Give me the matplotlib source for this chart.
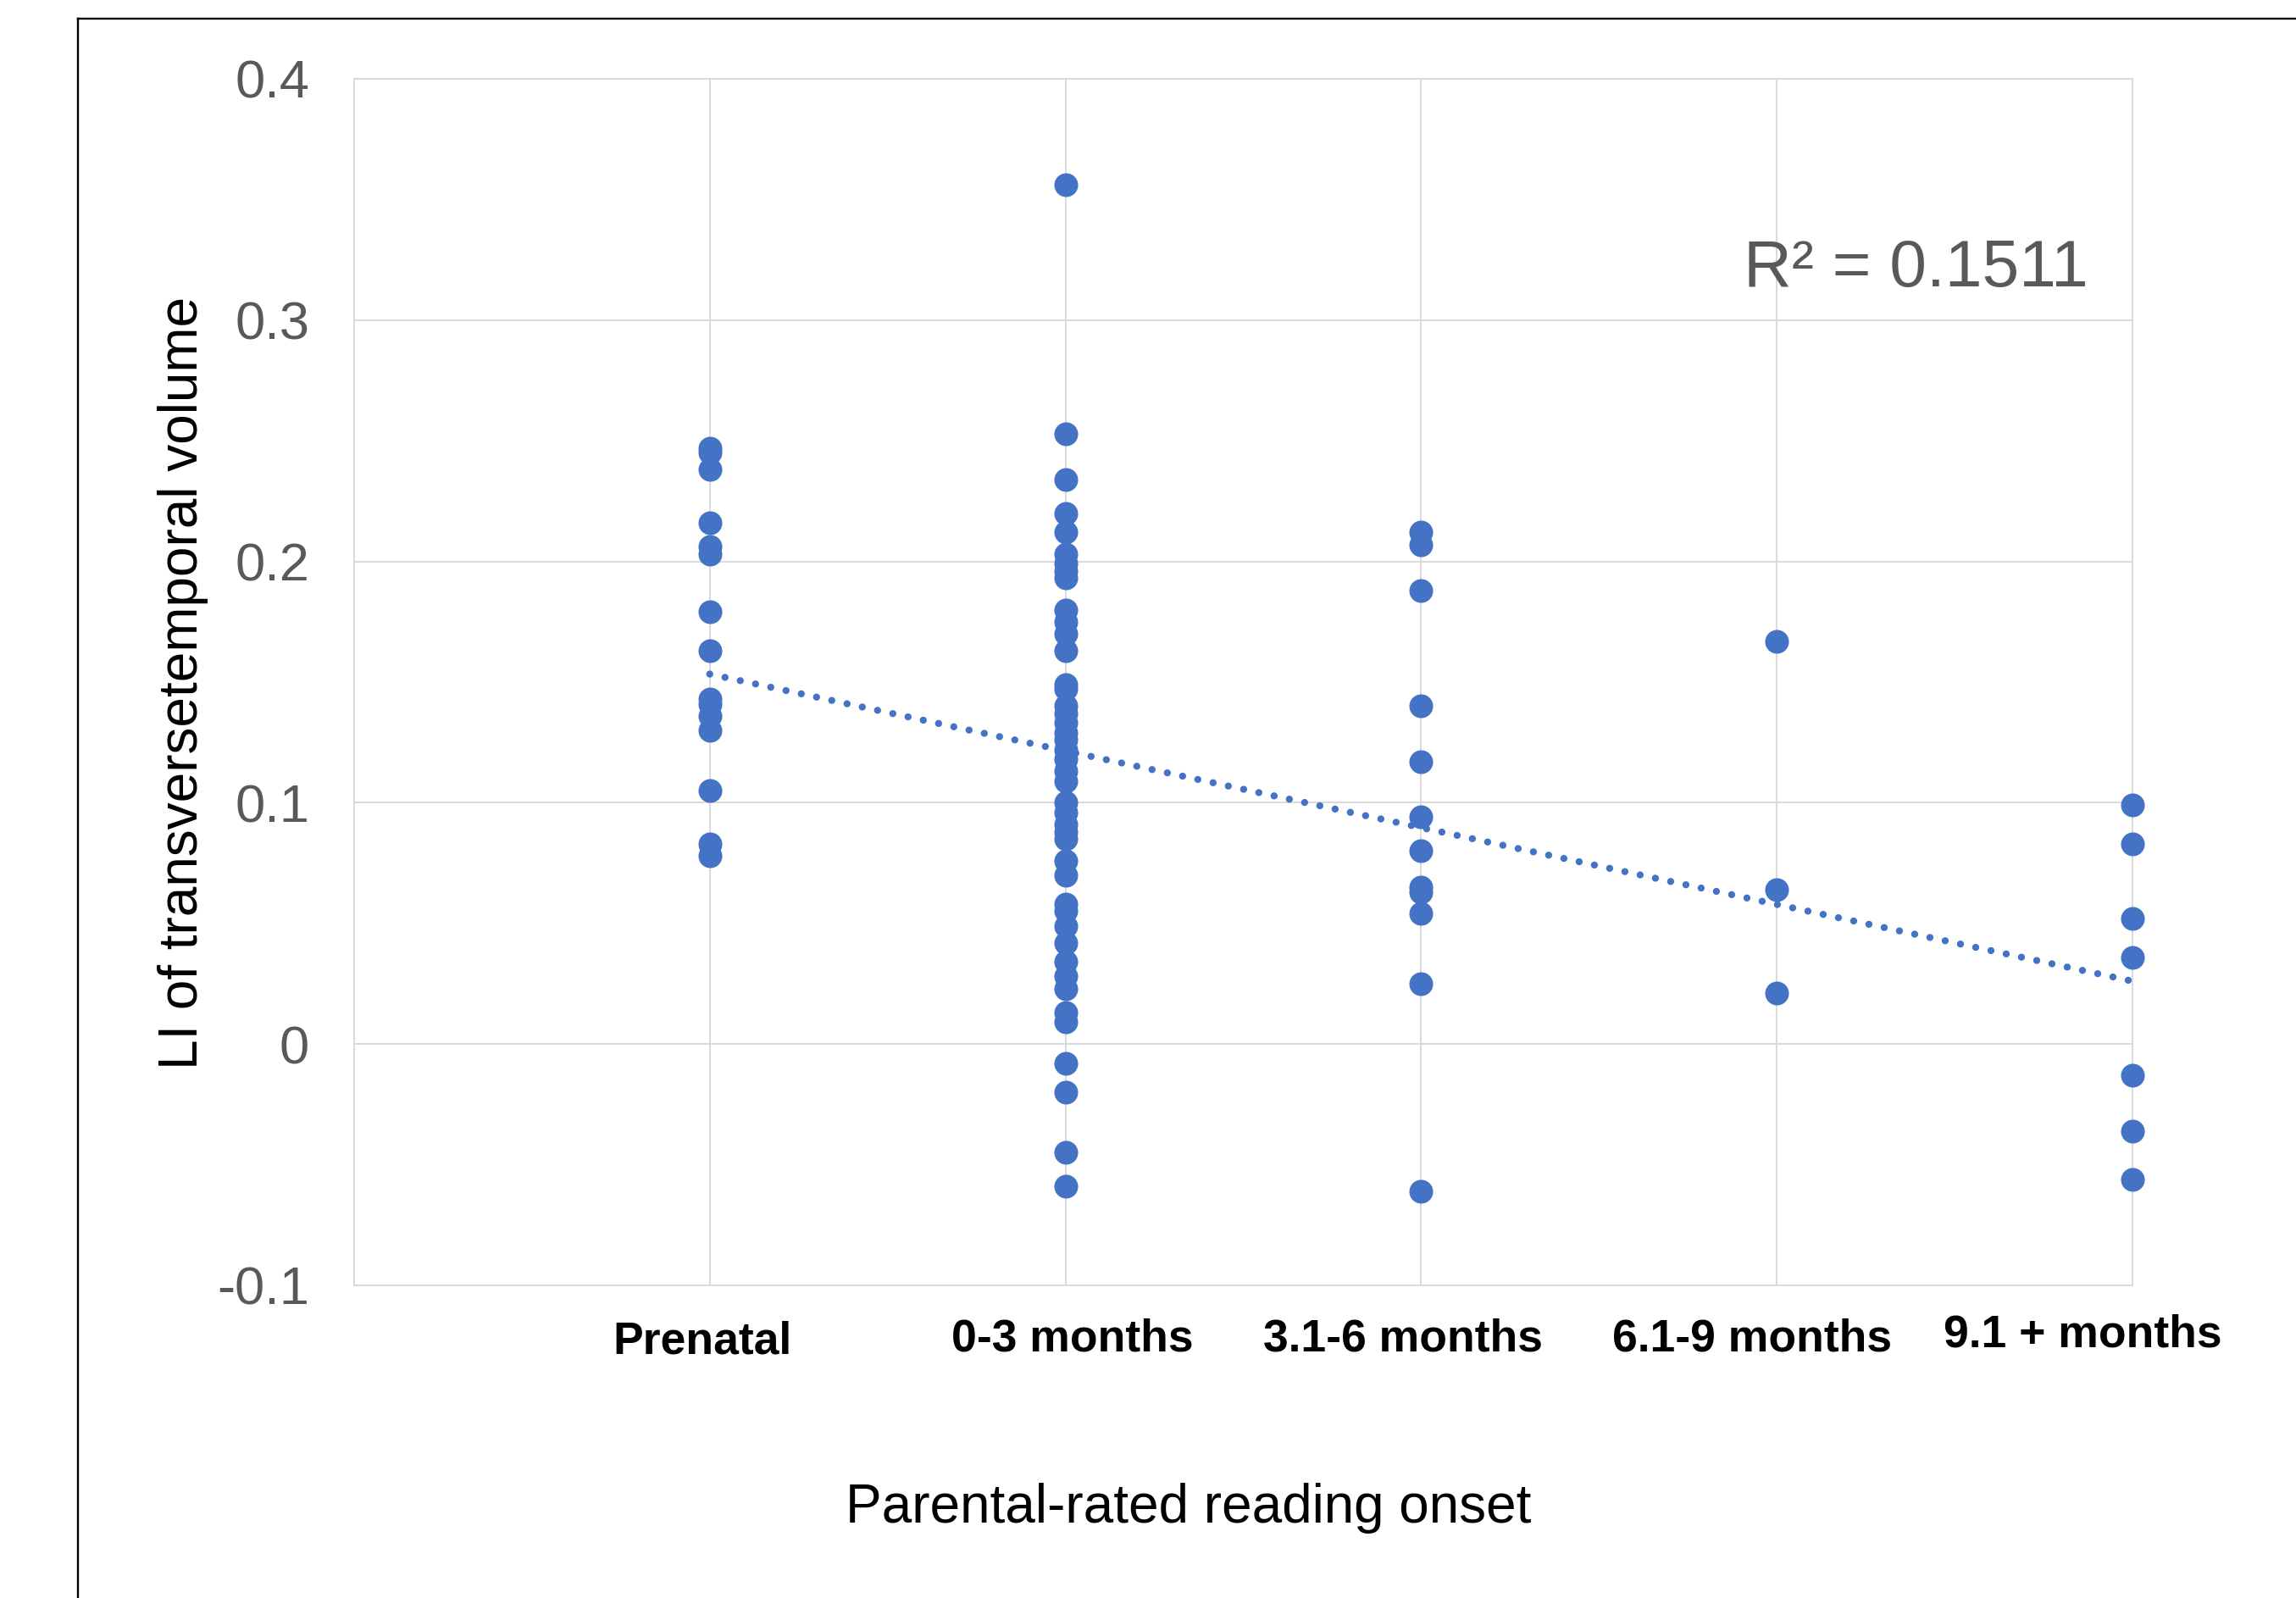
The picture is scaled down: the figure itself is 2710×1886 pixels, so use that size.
import numpy as np
import matplotlib
matplotlib.use("Agg")
import matplotlib.pyplot as plt
from matplotlib.lines import Line2D

plt.rcParams['font.family'] = ['Liberation Sans', 'DejaVu Sans']

categories = ["Prenatal", "0-3 months", "3.1-6 months", "6.1-9 months", "9.1 + months"]

# LI values per onset group
prenatal = [0.247, 0.245, 0.238, 0.216, 0.206, 0.203, 0.179, 0.163, 0.143, 0.141,
            0.136, 0.130, 0.105, 0.083, 0.078]
months_0_3 = [0.356, 0.253, 0.234, 0.220, 0.212, 0.203, 0.199, 0.196, 0.193, 0.180,
              0.175, 0.170, 0.163, 0.149, 0.147, 0.140, 0.137, 0.133, 0.129, 0.126,
              0.122, 0.118, 0.113, 0.109, 0.100, 0.096, 0.091, 0.088, 0.085, 0.076,
              0.070, 0.058, 0.055, 0.049, 0.042, 0.034, 0.028, 0.023, 0.013, 0.009,
              -0.008, -0.020, -0.045, -0.059]
months_3_6 = [0.212, 0.207, 0.188, 0.140, 0.117, 0.094, 0.080, 0.065, 0.063, 0.054,
              0.025, -0.061]
months_6_9 = [0.167, 0.064, 0.021]
months_9_plus = [0.099, 0.083, 0.052, 0.036, -0.013, -0.036, -0.056]

r2_label = "R² = 0.1511"
y_ticks = [-0.1, 0, 0.1, 0.2, 0.3, 0.4]

groups = [prenatal, months_0_3, months_3_6, months_6_9, months_9_plus]
xs = np.concatenate([[i + 1] * len(g) for i, g in enumerate(groups)])
ys = np.concatenate(groups)

blue = "#4472C4"
grey_grid = "#D9D9D9"
grey_text = "#595959"

fig = plt.figure(figsize=(27.1, 18.86), dpi=100)
ax = fig.add_axes([0.1542, 0.1957, 0.9288 - 0.1542, 0.9507 - 0.1957])

ax.scatter(xs, ys, s=20.2 ** 2, color=blue, linewidths=0, zorder=3, clip_on=False)

# linear trendline
slope, intercept = np.polyfit(xs, ys, 1)
xt = np.array([1, 5])
ax.plot(xt, slope * xt + intercept, color=blue, lw=6,
        linestyle=(0, (0.01, 2.2)), dash_capstyle='round', zorder=4, clip_on=False)

ax.set_xlim(0, 5)
ax.set_ylim(-0.1, 0.4)
ax.set_yticks(y_ticks)
ax.set_yticklabels(["-0.1", "0", "0.1", "0.2", "0.3", "0.4"])
ax.set_xticks(range(0, 6))
ax.set_xticklabels([])
ax.tick_params(axis='both', length=0)
ax.tick_params(axis='y', labelsize=45.5, labelcolor=grey_text, pad=38)
ax.grid(True, color=grey_grid, lw=1.4, zorder=0)
ax.set_axisbelow(True)
for sp in ax.spines.values():
    sp.set_color(grey_grid)
    sp.set_linewidth(1.4)

# category labels sit under the plot like text boxes
label_shift = [-0.02, 0.02, -0.05, -0.07, -0.14]
label_y = [-0.1235, -0.1225, -0.1225, -0.1225, -0.1205]
for i, name in enumerate(categories):
    ax.text(i + 1 + label_shift[i], label_y[i], name, ha='center', va='center',
            fontsize=38.5, fontweight='bold', color='black', clip_on=False)

fig.text(0.0797, 0.5726, "LI of transversetemporal volume", rotation=90,
         ha='center', va='center', fontsize=46, color='black')
fig.text(0.5175, 0.0560, "Parental-rated reading onset", ha='center', va='center',
         fontsize=46, color='black')
fig.text(0.7595, 0.8208, r2_label, ha='left', va='baseline', fontsize=56.5,
         color=grey_text)

# outer chart frame (runs off the right and bottom edges)
fx, fy = 92 / 2710, 1 - 22 / 1886
fig.add_artist(Line2D([fx, fx], [0, fy], color='black', lw=1.7))
fig.add_artist(Line2D([fx, 1], [fy, fy], color='black', lw=1.7))

fig.savefig("out.png", dpi=100, facecolor='white')
